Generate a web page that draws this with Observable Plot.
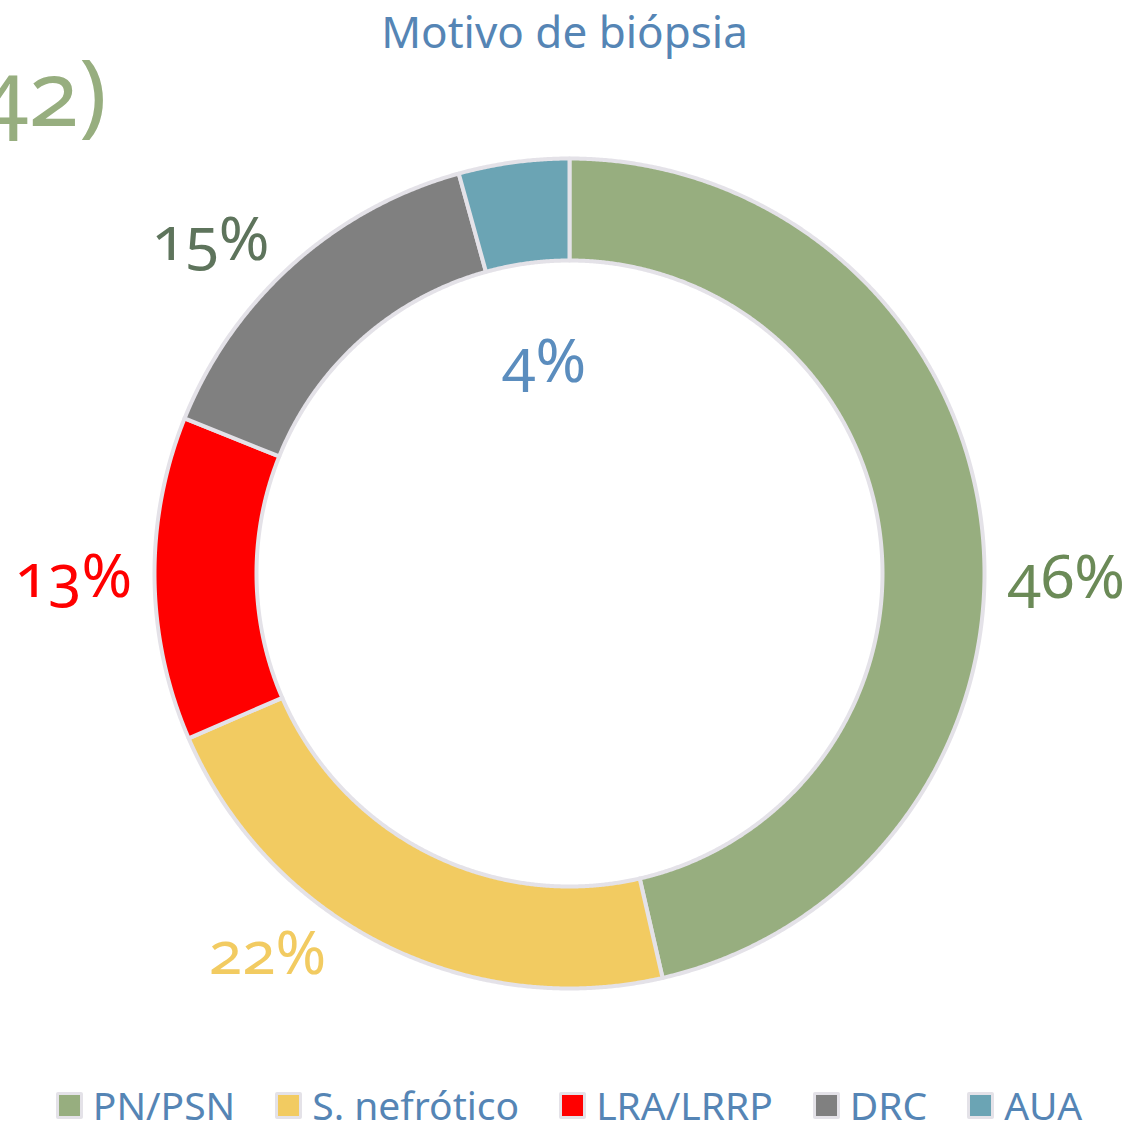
<!DOCTYPE html>
<html>
<head>
<meta charset="utf-8">
<script src="https://cdn.jsdelivr.net/npm/d3@7"></script>
<script src="https://cdn.jsdelivr.net/npm/@observablehq/plot@0.6"></script>
<style>
  html, body { margin: 0; padding: 0; background: #fff; }
  body { width: 1128px; height: 1130px; overflow: hidden; font-family: "Noto Sans", sans-serif; }
  #legend { display: flex; justify-content: center; align-items: center; gap: 40px; height: 44px; padding-top: 8px; color: #5585B5; font-size: 39px; line-height: 1.05; margin-left: 10px; }
  .item { display: flex; align-items: center; gap: 10px; }
  .sw { width: 21px; height: 21px; border: 3px solid #E4E2E8; border-radius: 2px; }
</style>
</head>
<body>
<div id="chart"></div>
<div id="legend"></div>
<script>
const categories = ["PN/PSN", "S. nefrótico", "LRA/LRRP", "DRC", "AUA"];
const values = [46.4, 22.1, 12.6, 14.6, 4.3];
const colors = ["#97AE7F", "#F2CB61", "#FF0000", "#808080", "#6BA4B4"];
const labelColors = ["#6B8A57", "#F2CB61", "#FF0000", "#5E745C", "#5B8DBE"];
const title = "Motivo de biópsia";
const cutText = "(n=42)";

// label nudges (layout only), in pixels, relative to the mid-angle anchor
const labelNudge = [[8, 60], [-80, -58], [-4, -2], [-31, 34], [3, -3]];

const R_OUT = 415, R_IN = 313;
const total = d3.sum(values);
const toRad = v => v / total * 2 * Math.PI;
let acc = 0;
const slices = values.map((v, i) => {
  const a0 = toRad(acc); acc += v; const a1 = toRad(acc);
  return {key: categories[i], value: v, a0, a1, color: colors[i], labelColor: labelColors[i]};
});

function arcPoints(s) {
  const pts = [];
  const n = Math.max(2, Math.ceil((s.a1 - s.a0) / (Math.PI / 720)));
  for (let k = 0; k <= n; k++) {
    const a = s.a0 + (s.a1 - s.a0) * k / n;
    pts.push({x: R_OUT * Math.sin(a), y: R_OUT * Math.cos(a)});
  }
  for (let k = n; k >= 0; k--) {
    const a = s.a0 + (s.a1 - s.a0) * k / n;
    pts.push({x: R_IN * Math.sin(a), y: R_IN * Math.cos(a)});
  }
  return pts;
}

const labels = slices.map((s, i) => {
  const m = (s.a0 + s.a1) / 2;
  const r = s.value < 5 ? 210 : 492;
  return {x: r * Math.sin(m), y: r * Math.cos(m), text: Math.round(s.value / total * 100) + "%", color: s.labelColor, dx: labelNudge[i][0], dy: labelNudge[i][1]};
});

const chart = Plot.plot({
  width: 1128,
  height: 1075,
  margin: 0,
  style: {fontFamily: "Noto Sans", background: "#fff"},
  x: {domain: [-569, 559], axis: null},
  y: {domain: [-502, 573], axis: null},
  marks: [
    ...slices.map(s => Plot.line(arcPoints(s), {x: "x", y: "y", fill: s.color, stroke: "#E4E2E8", strokeWidth: 4, curve: "linear-closed"})),
    ...labels.map(l => Plot.text([l], {x: "x", y: "y", text: "text", fill: l.color, fontSize: 61, fontVariant: "oldstyle-nums", textAnchor: "middle", lineAnchor: "middle", dx: l.dx, dy: l.dy})),
    Plot.text([title], {frameAnchor: "top", lineAnchor: "middle", dy: 33, fontSize: 44, fill: "#5585B5"}),
    Plot.text([cutText], {frameAnchor: "top-left", textAnchor: "end", lineAnchor: "middle", dx: 106, dy: 96, fontSize: 92, fill: "#97AE7F", fontVariant: "oldstyle-nums"})
  ]
});
document.getElementById("chart").append(chart);

const legend = document.getElementById("legend");
categories.forEach((c, i) => {
  const item = document.createElement("div");
  item.className = "item";
  const sw = document.createElement("div");
  sw.className = "sw";
  sw.style.background = colors[i];
  const t = document.createElement("span");
  t.textContent = c;
  item.append(sw, t);
  legend.append(item);
});
</script>
</body>
</html>
